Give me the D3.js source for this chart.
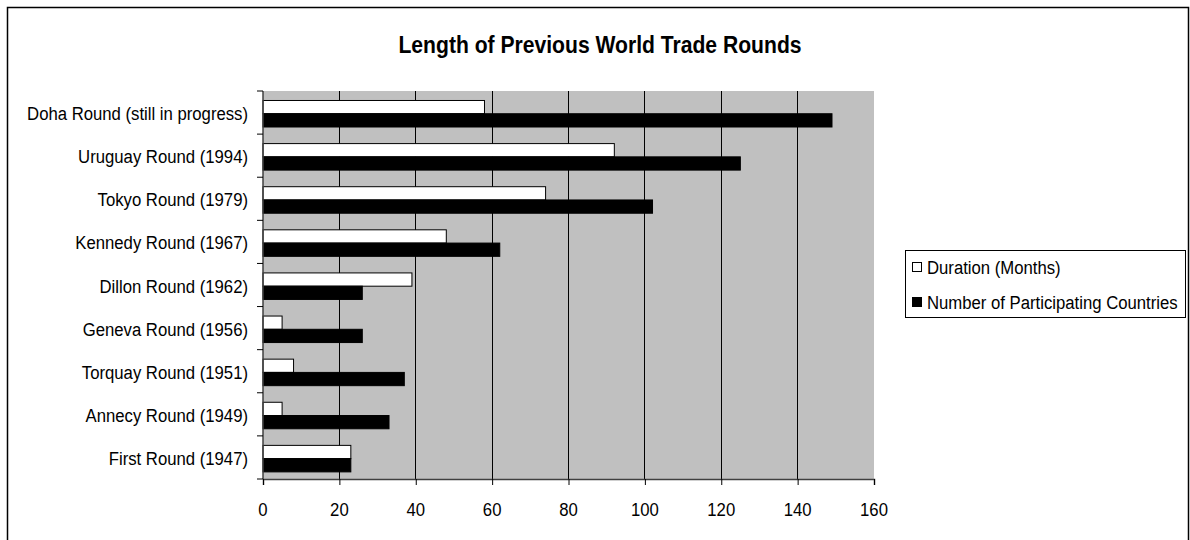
<!DOCTYPE html>
<html><head><meta charset="utf-8">
<script src="https://cdn.jsdelivr.net/npm/d3@7"></script>
<style>html,body{margin:0;padding:0;background:#fff;}svg{display:block;}</style>
</head><body>
<svg id="chart" width="1190" height="540"></svg>
<script>
const categories = ["Doha Round (still in progress)","Uruguay Round (1994)","Tokyo Round (1979)","Kennedy Round (1967)","Dillon Round (1962)","Geneva Round (1956)","Torquay Round (1951)","Annecy Round (1949)","First Round (1947)"];
const duration = [58, 92, 74, 48, 39, 5, 8, 5, 23];
const countries = [149, 125, 102, 62, 26, 26, 37, 33, 23];
const seriesNames = ["Duration (Months)", "Number of Participating Countries"];
const xTicks = [0, 20, 40, 60, 80, 100, 120, 140, 160];
const title = "Length of Previous World Trade Rounds";

const FONT = "'Liberation Sans', Arial, sans-serif";
const SX = 0.88;
const svg = d3.select("#chart");
const L = 263, R = 874, T = 91, B = 479;

svg.append("rect").attr("x",7.5).attr("y",7.5).attr("width",1181).attr("height",560)
  .attr("fill","#fff").attr("stroke","#000").attr("stroke-width",1.5);

function txt(g, x, y, s, size, anchor, weight) {
  return g.append("text").attr("transform",`translate(${x},${y}) scale(${SX},1)`)
    .attr("font-family",FONT).attr("font-size",size).attr("text-anchor",anchor)
    .attr("font-weight",weight||"normal").attr("fill","#000").text(s);
}

txt(svg, 600, 53, title, 24, "middle", "bold");

const x = d3.scaleLinear().domain([0,160]).range([L,R]);
const y = d3.scaleBand().domain(categories).range([T,B]).paddingInner(0).paddingOuter(0);
const bw = y.bandwidth();
const ys = d3.scaleBand().domain(seriesNames).range([0.22*bw, 0.835*bw]);

svg.append("rect").attr("x",L).attr("y",T).attr("width",R-L).attr("height",B-T).attr("fill","#c0c0c0");

// gridlines
svg.append("g").selectAll("line").data(xTicks.filter(d=>d>0 && d<160)).join("line")
  .attr("x1",d=>x(d)).attr("x2",d=>x(d)).attr("y1",T).attr("y2",B)
  .attr("stroke","#000").attr("stroke-width",1).attr("shape-rendering","crispEdges");

const rows = categories.map((c,i)=>({c, vals:[duration[i], countries[i]]}));
const g = svg.append("g");
rows.forEach(r=>{
  r.vals.forEach((v,j)=>{
    g.append("rect").attr("x",x(0)).attr("y",y(r.c)+ys(seriesNames[j]))
      .attr("width",x(v)-x(0)).attr("height",ys.bandwidth())
      .attr("fill", j===0 ? "#fff" : "#000").attr("stroke","#000").attr("stroke-width",1);
  });
});

// axes
const xAxis = d3.axisBottom(x).tickValues(xTicks).tickSize(6).tickPadding(0).tickFormat(()=>"");
const xg = svg.append("g").attr("transform",`translate(0,${B})`).call(xAxis);
xg.select(".domain").attr("stroke","#404040").attr("stroke-width",1.5);
xg.selectAll(".tick line").attr("stroke","#000");
xTicks.forEach(t=>txt(svg, x(t), 516, String(t), 19, "middle"));

const yEdges = categories.map(c=>y(c)).concat([B]);
const yg = svg.append("g");
yg.append("line").attr("x1",L).attr("x2",L).attr("y1",T).attr("y2",B).attr("stroke","#404040").attr("stroke-width",1.5);
yg.selectAll("line.t").data(yEdges).join("line").attr("class","t")
  .attr("x1",L-6).attr("x2",L).attr("y1",d=>d).attr("y2",d=>d).attr("stroke","#000");
categories.forEach(c=>txt(svg, 248, y(c)+bw/2+7.5, c, 19, "end"));

// legend
const lg = svg.append("g");
lg.append("rect").attr("x",905.5).attr("y",250.5).attr("width",280).attr("height",67)
  .attr("fill","#fff").attr("stroke","#000").attr("stroke-width",1);
seriesNames.forEach((s,j)=>{
  const cy = 267 + j*35;
  lg.append("rect").attr("x",912.5).attr("y",cy-4.5).attr("width",9).attr("height",9)
    .attr("fill", j===0?"#fff":"#000").attr("stroke","#000");
  txt(lg, 927, cy+7, s, 19, "start");
});
</script>
</body></html>
